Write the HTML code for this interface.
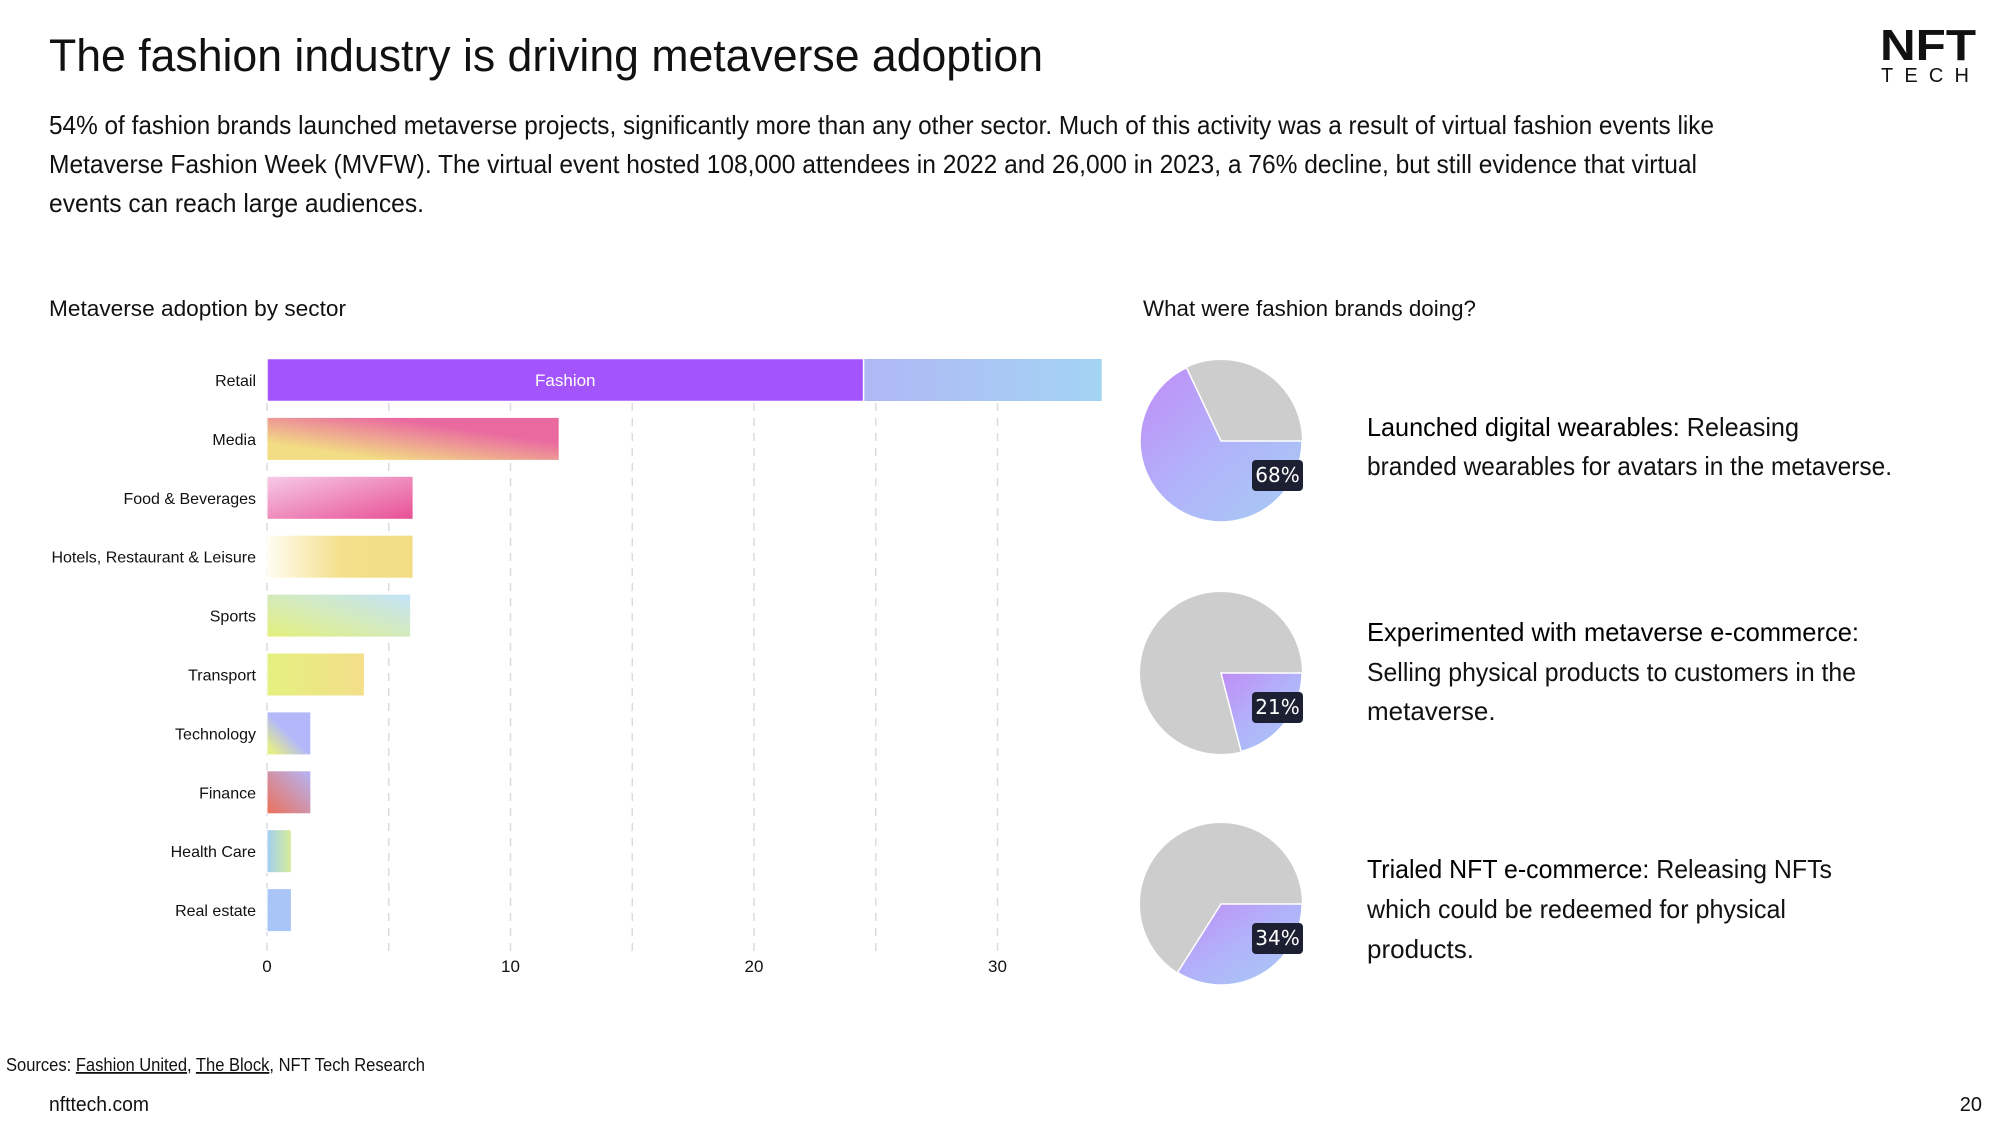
<!DOCTYPE html>
<html><head><meta charset="utf-8"><style>
html,body{margin:0;padding:0;background:#fff;}
svg{display:block;font-family:"Liberation Sans",sans-serif;}
</style></head><body>
<svg id="page" width="2000" height="1135" viewBox="0 0 2000 1135">
<defs>
<linearGradient id="gRetail" x1="0" y1="0" x2="1" y2="0"><stop offset="0.08" stop-color="#a855f7"/><stop offset="0.5" stop-color="#b9a2f7"/><stop offset="1" stop-color="#a3d4f3"/></linearGradient>
<linearGradient id="gMedia" x1="0" y1="1" x2="1" y2="0"><stop offset="0.2" stop-color="#f2dd84"/><stop offset="0.7" stop-color="#ea6aa0"/></linearGradient>
<linearGradient id="gFood" x1="0" y1="0" x2="1" y2="1"><stop offset="0" stop-color="#f6cbe6"/><stop offset="1" stop-color="#e84f95"/></linearGradient>
<linearGradient id="gHotels" x1="0" y1="0" x2="1" y2="0"><stop offset="0" stop-color="#fffdf2"/><stop offset="0.5" stop-color="#f3e08c"/><stop offset="1" stop-color="#f2dd84"/></linearGradient>
<linearGradient id="gSports" x1="0" y1="1" x2="1" y2="0"><stop offset="0" stop-color="#e4f07c"/><stop offset="1" stop-color="#c3e4fb"/></linearGradient>
<linearGradient id="gTransport" x1="0" y1="0" x2="1" y2="0"><stop offset="0" stop-color="#e4f17f"/><stop offset="1" stop-color="#f3de8a"/></linearGradient>
<linearGradient id="gTech" x1="0" y1="1" x2="1" y2="0"><stop offset="0.1" stop-color="#e4ee86"/><stop offset="0.5" stop-color="#b3b8fb"/></linearGradient>
<linearGradient id="gFinance" x1="0" y1="1" x2="1" y2="0"><stop offset="0" stop-color="#ec7058"/><stop offset="1" stop-color="#b4b6f8"/></linearGradient>
<linearGradient id="gHealth" x1="0" y1="0" x2="1" y2="0"><stop offset="0" stop-color="#9fcff0"/><stop offset="1" stop-color="#d9ec9a"/></linearGradient>
<linearGradient id="gReal" x1="0" y1="0" x2="1" y2="0"><stop offset="0" stop-color="#a9c4f7"/><stop offset="1" stop-color="#a9c4f7"/></linearGradient>
<linearGradient id="gPie" x1="0" y1="0" x2="1" y2="1"><stop offset="0" stop-color="#c08cf6"/><stop offset="0.5" stop-color="#b1b3fa"/><stop offset="1" stop-color="#a6cdf3"/></linearGradient>
</defs>

<text x="49" y="71" font-size="45" fill="#111" textLength="994" lengthAdjust="spacingAndGlyphs">The fashion industry is driving metaverse adoption</text>
<g font-size="26" fill="#111">
<text x="49" y="134" textLength="1665" lengthAdjust="spacingAndGlyphs">54% of fashion brands launched metaverse projects, significantly more than any other sector. Much of this activity was a result of virtual fashion events like</text>
<text x="49" y="173" textLength="1648" lengthAdjust="spacingAndGlyphs">Metaverse Fashion Week (MVFW). The virtual event hosted 108,000 attendees in 2022 and 26,000 in 2023, a 76% decline, but still evidence that virtual</text>
<text x="49" y="212" textLength="375" lengthAdjust="spacingAndGlyphs">events can reach large audiences.</text>
</g>
<g>
<text x="1976" y="60" font-size="44" font-weight="bold" text-anchor="end" fill="#111" textLength="96" lengthAdjust="spacingAndGlyphs">NFT</text>
<text x="1881" y="82" font-size="20" fill="#111" textLength="88" lengthAdjust="spacing">TECH</text>
</g>

<text x="49" y="316" font-size="22" fill="#111" textLength="297" lengthAdjust="spacingAndGlyphs">Metaverse adoption by sector</text>
<text x="1143" y="316" font-size="22" fill="#111" textLength="333" lengthAdjust="spacingAndGlyphs">What were fashion brands doing?</text>

<g id="barChart"></g>
<g id="pies"></g>

<g font-size="26" fill="#111">
<text x="1367" y="436" textLength="432" lengthAdjust="spacingAndGlyphs"><tspan fill="#000">Launched digital wearables:</tspan>  Releasing</text>
<text x="1367" y="475" textLength="525" lengthAdjust="spacingAndGlyphs">branded wearables for avatars in the metaverse.</text>
</g>
<g font-size="26" fill="#111">
<text x="1367" y="641" textLength="492" lengthAdjust="spacingAndGlyphs"><tspan fill="#000">Experimented with metaverse e-commerce:</tspan></text>
<text x="1367" y="681" textLength="489" lengthAdjust="spacingAndGlyphs">Selling physical products to customers in the</text>
<text x="1367" y="720">metaverse.</text>
</g>
<g font-size="26" fill="#111">
<text x="1367" y="878" textLength="465" lengthAdjust="spacingAndGlyphs"><tspan fill="#000">Trialed NFT e-commerce:</tspan> Releasing NFTs</text>
<text x="1367" y="918" textLength="419" lengthAdjust="spacingAndGlyphs">which could be redeemed for physical</text>
<text x="1367" y="958">products.</text>
</g>

<text x="6" y="1071" font-size="18" fill="#111" textLength="419" lengthAdjust="spacingAndGlyphs">Sources: <tspan text-decoration="underline">Fashion United</tspan>, <tspan text-decoration="underline">The Block</tspan>, NFT Tech Research</text>
<text x="49" y="1111" font-size="20" fill="#111" textLength="100" lengthAdjust="spacingAndGlyphs">nfttech.com</text>
<text x="1982" y="1111" font-size="20" fill="#111" text-anchor="end">20</text>
</svg>
<script>
const categories = ["Retail","Media","Food & Beverages","Hotels, Restaurant & Leisure","Sports","Transport","Technology","Finance","Health Care","Real estate"];
const values = [34.3,12,6,6,5.9,4,1.8,1.8,1,1];
const fashionValue = 24.5;
const ticks = [0,10,20,30];
const gridTicks = [0,5,10,15,20,25,30];
const fills = ["url(#gRetail)","url(#gMedia)","url(#gFood)","url(#gHotels)","url(#gSports)","url(#gTransport)","url(#gTech)","url(#gFinance)","url(#gHealth)","url(#gReal)"];
const pieLabels = ["68%","21%","34%"];
const pieValues = [68,21,34];

const NS="http://www.w3.org/2000/svg";
function mk(tag, attrs, parent){const e=document.createElementNS(NS,tag);for(const k in attrs)e.setAttribute(k,attrs[k]);parent.appendChild(e);return e;}
const X0=267, PX=24.35, Y0=380, PITCH=58.9, BH=43;
const xs=v=>X0+v*PX;
const yc=i=>Y0+i*PITCH;
const bc=document.getElementById('barChart');
gridTicks.forEach(t=>{
  const l=mk('line',{x1:xs(t),x2:xs(t),y1:358,y2:958,stroke:'#dcdce0','stroke-width':1.5,'stroke-dasharray':'8 7'},bc);
  
  
});
ticks.forEach(t=>{
  const tx=mk('text',{x:xs(t),y:972,'font-size':17,'text-anchor':'middle',fill:'#111'},bc);
  tx.textContent=t;
  
  
});
categories.forEach((c,i)=>{
  const r=mk('rect',{x:xs(0),y:yc(i)-BH/2,width:xs(values[i])-xs(0),height:BH,fill:fills[i],stroke:'#fff','stroke-width':1},bc);
  
  
  const lb=mk('text',{x:256,y:yc(i)+6,'font-size':16,'text-anchor':'end',fill:'#111'},bc);
  lb.textContent=c;
  
  
});
const fr=mk('rect',{x:xs(0),y:yc(0)-BH/2,width:xs(fashionValue)-xs(0),height:BH,fill:'#a355fb',stroke:'#fff','stroke-width':1.5},bc);


const ft=mk('text',{x:(xs(0)+xs(fashionValue))/2,y:yc(0)+6,'font-size':17,'text-anchor':'middle',fill:'#fff'},bc);
ft.textContent='Fashion';



const pg=document.getElementById('pies');
const CX=1221, CYS=[441,673,904], R=81;
pieValues.forEach((p,i)=>{
  const cy=CYS[i];
  const bg=mk('circle',{cx:CX,cy:cy,r:R,fill:'#cdcdcd'},pg);
  
  
  const a=p/100*2*Math.PI;
  const ex=CX+R*Math.cos(a), ey=cy+R*Math.sin(a);
  const large=p>50?1:0;
  const s=mk('path',{d:`M${CX},${cy} L${CX+R},${cy} A${R},${R} 0 ${large} 1 ${ex},${ey} Z`,fill:'url(#gPie)',stroke:'#fff','stroke-width':1.5},pg);
  
  
  const bx=mk('rect',{x:CX+31,y:cy+19,width:51,height:31,rx:4,fill:'#1d2033'},pg);
  
  
  const t=mk('text',{x:CX+56.5,y:cy+41,'font-size':20,'text-anchor':'middle',fill:'#fff','font-family':'DejaVu Sans, sans-serif'},pg);
  t.textContent=pieLabels[i];
  
  
});
</script>
</body></html>
